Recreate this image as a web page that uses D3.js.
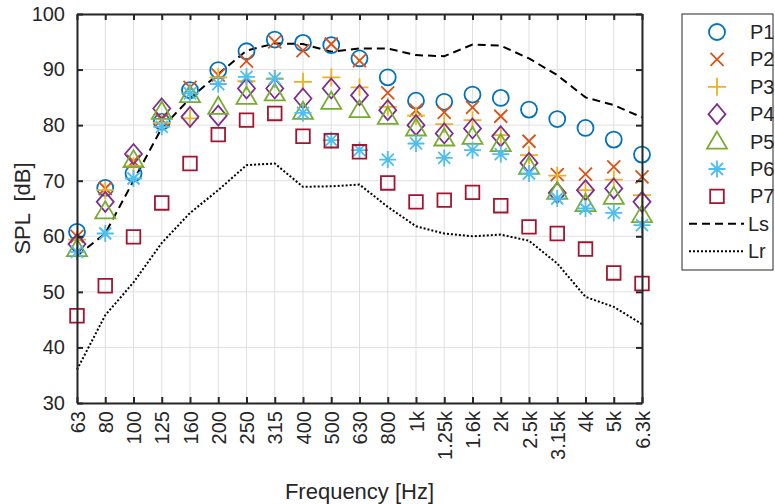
<!DOCTYPE html>
<html>
<head>
<meta charset="utf-8">
<script src="https://cdn.jsdelivr.net/npm/d3@7"></script>
<style>
  body { margin: 0; background: #fff; }
  text { font-family: "Liberation Sans", Arial, Helvetica, sans-serif; fill: #262626; }
</style>
</head>
<body>
<script>
// frequency bands (x categories)
var freqs = ["63","80","100","125","160","200","250","315","400","500","630","800",
             "1k","1.25k","1.6k","2k","2.5k","3.15k","4k","5k","6.3k"];
var yTicks = [30, 40, 50, 60, 70, 80, 90, 100];

// measured points
var p1 = [60.8,68.7,71.3,80.6,86.3,89.9,93.3,95.4,94.8,94.4,92.0,88.6,84.4,84.2,85.5,84.9,82.8,81.1,79.5,77.4,74.7];
var p2 = [60.0,68.6,73.5,81.0,86.8,89.0,91.5,95.0,93.4,94.6,91.6,85.8,82.7,82.3,83.2,81.6,77.1,71.1,71.2,72.5,70.7];
var p3 = [59.4,68.3,72.6,80.4,81.2,88.6,87.9,88.3,87.8,88.6,86.8,83.3,81.7,80.2,80.9,78.2,74.6,70.9,68.3,70.2,67.4];
var p4 = [58.6,66.2,74.8,83.0,81.5,81.7,86.6,86.6,84.8,86.6,85.4,82.7,80.0,78.5,79.4,78.0,73.2,67.8,68.3,68.6,66.2];
var p5 = [57.7,64.5,73.7,82.4,85.4,83.3,85.1,85.7,82.4,84.2,82.7,81.5,79.4,77.6,77.9,76.6,72.5,68.0,65.8,67.1,63.8];
var p6 = [57.2,60.5,70.4,79.7,85.7,87.4,88.7,88.4,82.2,77.3,75.5,73.8,76.7,74.1,75.5,74.8,71.3,66.8,65.0,64.2,62.0];
var p7 = [45.7,51.1,59.9,66.0,73.1,78.3,80.9,82.1,78.0,77.2,75.2,69.6,66.2,66.5,67.9,65.5,61.7,60.5,57.7,53.4,51.5];

// reference curves
var ls = [56.5,60.5,70.0,79.5,84.8,89.2,93.4,94.7,94.6,93.2,93.8,93.8,92.6,92.4,94.5,94.3,92.0,89.0,85.0,83.6,81.4];
var lr = [36.0,45.8,51.7,58.8,64.2,68.3,72.8,73.1,68.9,69.0,69.3,65.3,61.8,60.5,60.0,60.3,59.2,55.1,49.1,47.3,44.2];

var seriesNames = ["P1","P2","P3","P4","P5","P6","P7"];
var seriesVals = [p1, p2, p3, p4, p5, p6, p7];
var markers = ["circle","x","plus","diamond","triangle","star","square"];
var colors = ["#0072BD","#D95319","#EDB120","#7E2F8E","#77AC30","#4DBEEE","#A2142F"];

var margin = {top: 14, right: 133, bottom: 101, left: 77},
    width = 775 - margin.left - margin.right,
    height = 504 - margin.top - margin.bottom;

var svg = d3.select("body").append("svg")
    .attr("width", 775)
    .attr("height", 504)
  .append("g")
    .attr("transform", "translate(" + margin.left + "," + margin.top + ")");

var x = d3.scalePoint().domain(freqs).range([0, width]);
var y = d3.scaleLinear().domain([30, 100]).range([height, 0]);

// grid
svg.append("g").selectAll("line").data(freqs).enter().append("line")
    .attr("x1", function(d) { return x(d); }).attr("x2", function(d) { return x(d); })
    .attr("y1", 0).attr("y2", height)
    .attr("stroke", "#dfdfdf").attr("stroke-width", 1);
svg.append("g").selectAll("line").data(yTicks).enter().append("line")
    .attr("x1", 0).attr("x2", width)
    .attr("y1", function(d) { return y(d); }).attr("y2", function(d) { return y(d); })
    .attr("stroke", "#dfdfdf").attr("stroke-width", 1);

// Ls / Lr lines
var line = d3.line()
    .x(function(d, i) { return x(freqs[i]); })
    .y(function(d) { return y(d); });

svg.append("path").datum(ls)
    .attr("d", line).attr("fill", "none")
    .attr("stroke", "#000").attr("stroke-width", 2)
    .attr("stroke-dasharray", "8,5");
svg.append("path").datum(lr)
    .attr("d", line).attr("fill", "none")
    .attr("stroke", "#000").attr("stroke-width", 2)
    .attr("stroke-dasharray", "2,2");

function markerPath(type) {
  var p = d3.path();
  if (type == "circle") {
    p.moveTo(8, 0); p.arc(0, 0, 8, 0, 2 * Math.PI);
  } else if (type == "x") {
    p.moveTo(-6.5, -6.5); p.lineTo(6.5, 6.5);
    p.moveTo(-6.5, 6.5); p.lineTo(6.5, -6.5);
  } else if (type == "plus") {
    p.moveTo(-9, 0); p.lineTo(9, 0);
    p.moveTo(0, -9); p.lineTo(0, 9);
  } else if (type == "diamond") {
    p.moveTo(0, -10); p.lineTo(8.5, 0); p.lineTo(0, 10); p.lineTo(-8.5, 0); p.closePath();
  } else if (type == "triangle") {
    p.moveTo(0, -10); p.lineTo(10, 7); p.lineTo(-10, 7); p.closePath();
  } else if (type == "star") {
    p.moveTo(-8.5, 0); p.lineTo(8.5, 0);
    p.moveTo(0, -8.5); p.lineTo(0, 8.5);
    p.moveTo(-6, -6); p.lineTo(6, 6);
    p.moveTo(-6, 6); p.lineTo(6, -6);
  } else {
    p.rect(-6.8, -6.8, 13.6, 13.6);
  }
  return p.toString();
}

// markers
seriesVals.forEach(function(vals, s) {
  svg.append("g").selectAll("path")
      .data(vals)
      .enter().append("path")
      .attr("transform", function(d, i) { return "translate(" + x(freqs[i]) + "," + y(d) + ")"; })
      .attr("d", markerPath(markers[s]))
      .attr("fill", "none")
      .attr("stroke", colors[s])
      .attr("stroke-width", 1.8);
});

// axes (ticks inward on all sides)
var xAxis = svg.append("g")
    .attr("transform", "translate(0," + height + ")")
    .call(d3.axisBottom(x).tickSizeInner(-6).tickSizeOuter(0).tickPadding(8));
xAxis.selectAll("text")
    .attr("transform", "rotate(-90)")
    .attr("x", -8).attr("y", 0).attr("dy", "0.35em")
    .style("text-anchor", "end");
svg.append("g")
    .call(d3.axisTop(x).tickSizeInner(-6).tickSizeOuter(0).tickFormat(""));
svg.append("g")
    .call(d3.axisLeft(y).tickValues(yTicks).tickSizeInner(-6).tickSizeOuter(0).tickPadding(12));
svg.append("g")
    .attr("transform", "translate(" + width + ",0)")
    .call(d3.axisRight(y).tickValues(yTicks).tickSizeInner(-6).tickSizeOuter(0).tickFormat(""));

svg.selectAll(".domain, .tick line").attr("stroke", "#262626").attr("stroke-width", 2);
svg.selectAll(".tick text").attr("font-size", "20px").attr("fill", "#262626")
    .attr("font-family", "'Liberation Sans', Arial, sans-serif");

svg.append("text")
    .attr("x", width / 2).attr("y", 485)
    .attr("font-size", "22px")
    .style("text-anchor", "middle")
    .text("Frequency [Hz]");

svg.append("text")
    .attr("transform", "translate(" + (-47) + "," + (height / 2) + ") rotate(-90)")
    .attr("font-size", "22px")
    .style("text-anchor", "middle")
    .attr("xml:space", "preserve")
    .text("SPL  [dB]");

// legend
var lg = d3.select("svg").append("g").attr("transform", "translate(682,14)");
lg.append("rect").attr("width", 91).attr("height", 256)
    .attr("fill", "#fff").attr("stroke", "#262626").attr("stroke-width", 1);
seriesNames.forEach(function(n, i) {
  var yy = 18 + i * 27.4;
  lg.append("path")
      .attr("transform", "translate(35," + yy + ")")
      .attr("d", markerPath(markers[i]))
      .attr("fill", "none").attr("stroke", colors[i]).attr("stroke-width", 1.8);
  lg.append("text").attr("x", 68).attr("y", yy).attr("dy", "0.35em")
      .attr("font-size", "20px").text(n);
});
[["Ls", "8,5"], ["Lr", "2,2"]].forEach(function(d, j) {
  var yy = 18 + (7 + j) * 27.4;
  lg.append("line").attr("x1", 7).attr("x2", 62).attr("y1", yy).attr("y2", yy)
      .attr("stroke", "#000").attr("stroke-width", 2).attr("stroke-dasharray", d[1]);
  lg.append("text").attr("x", 66).attr("y", yy).attr("dy", "0.35em")
      .attr("font-size", "20px").text(d[0]);
});
</script>
</body>
</html>
